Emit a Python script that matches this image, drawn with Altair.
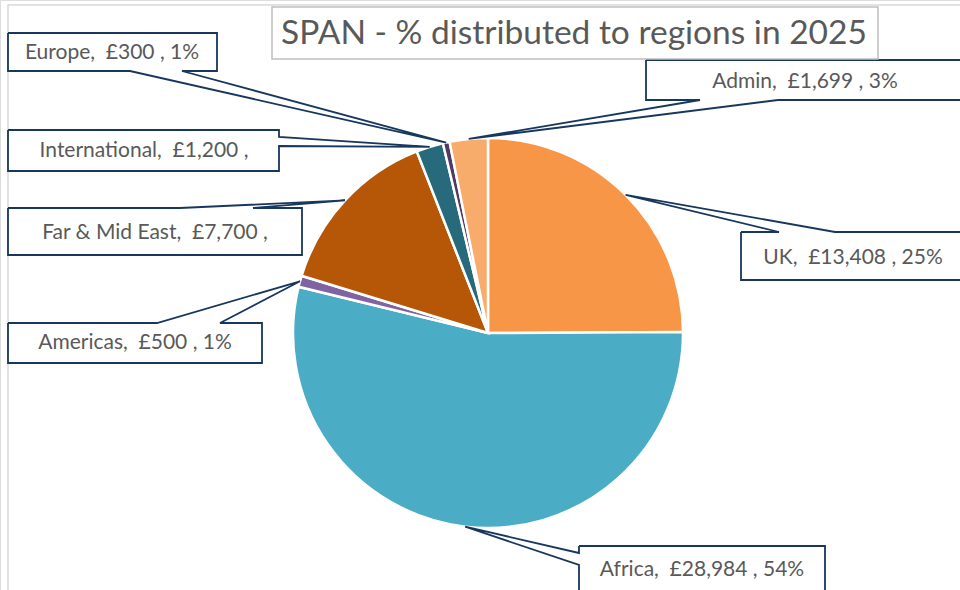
import math
import altair as alt
import pandas as pd

# ---- data ----
regions = ["UK", "Africa", "Americas", "Far & Mid East", "International", "Europe", "Admin"]
values = [13408, 28984, 500, 7700, 1200, 300, 1699]
label_texts = [
    "UK,\u00a0 £13,408 , 25%",
    "Africa,\u00a0 £28,984 , 54%",
    "Americas,\u00a0 £500 , 1%",
    "Far & Mid East,\u00a0 £7,700 ,",
    "International,\u00a0 £1,200 ,",
    "Europe,\u00a0 £300 , 1%",
    "Admin,\u00a0 £1,699 , 3%",
]
colors = ["#F79646", "#4BACC6", "#8064A2", "#B65708", "#276A7C", "#4D3B62", "#F8AC6B"]
title_text = "SPAN - % distributed to regions in 2025"

# ---- layout (pixels) ----
CX, CY, R = 488, 333, 195
# callout boxes: x1, y1, x2, y2, side of pointer, pointer base positions along side
boxes = {
    "UK": (741, 232, 975, 280, "top", 779, 835),
    "Africa": (579, 546, 825, 600, "left", 553, 565),
    "Americas": (8, 323, 262, 363, "top", 157, 220),
    "Far & Mid East": (8, 208, 302, 255, "top", 180, 253),
    "International": (8, 130, 279, 171, "right", 137, 146),
    "Europe": (8, 33, 217, 71, "bottom", 130, 182),
    "Admin": (646, 60, 975, 100, "bottom", 700, 778),
}
text_pos = {
    "UK": (853, 258), "Africa": (702, 570), "Americas": (135, 343),
    "Far & Mid East": (155, 233), "International": (144, 151),
    "Europe": (112, 53), "Admin": (805, 82),
}

total = sum(values)
pie_df = pd.DataFrame({"region": regions, "value": values, "idx": range(len(regions))})

# anchor points on the pie edge (mid-angle of each slice)
anchors = {}
cum = 0
for r, v in zip(regions, values):
    a = (cum + v / 2) / total * 2 * math.pi
    anchors[r] = (CX + R * math.sin(a), CY - R * math.cos(a))
    cum += v

path_rows, box_rows, text_rows = [], [], []
for r, t in zip(regions, label_texts):
    x1, y1, x2, y2, side, p1, p2 = boxes[r]
    ax, ay = anchors[r]
    top = [(x1, y1), (x2, y1)]
    right = [(x2, y2)]
    bottom = [(x1, y2)]
    left = [(x1, y1)]
    if side == "top":
        top = [(x1, y1), (p1, y1), (ax, ay), (p2, y1), (x2, y1)]
    elif side == "right":
        right = [(x2, p1), (ax, ay), (x2, p2), (x2, y2)]
    elif side == "bottom":
        bottom = [(p2, y2), (ax, ay), (p1, y2), (x1, y2)]
    elif side == "left":
        left = [(x1, p2), (ax, ay), (x1, p1), (x1, y1)]
    pts = top + right + bottom + left
    for i, (px, py) in enumerate(pts):
        path_rows.append({"region": r, "ord": i, "px": px, "py": py})
    box_rows.append({"region": r, "x1": x1, "y1": y1, "x2": x2, "y2": y2})
    tx, ty = text_pos[r]
    text_rows.append({"region": r, "label": t, "tx": tx, "ty": ty})

path_df = pd.DataFrame(path_rows)
box_df = pd.DataFrame(box_rows)
text_df = pd.DataFrame(text_rows)

NAVY = "#17375E"
FONT = "Lato"

border = alt.Chart(pd.DataFrame({"a": [0]})).mark_rect(
    fill="white", stroke="#D9D9D9", strokeWidth=1.5
).encode(x=alt.value(8), x2=alt.value(975), y=alt.value(5), y2=alt.value(600))

pie = alt.Chart(pie_df).mark_arc(outerRadius=R, stroke="white", strokeWidth=2.5).encode(
    theta=alt.Theta("value:Q", stack=True),
    color=alt.Color("region:N", scale=alt.Scale(domain=regions, range=colors), legend=None),
    order=alt.Order("idx:Q"),
    x=alt.value(CX),
    y=alt.value(CY),
)

box_fill = alt.Chart(box_df).mark_rect(fill="white", strokeWidth=0).encode(
    x=alt.X("x1:Q", scale=None), x2="x2:Q",
    y=alt.Y("y1:Q", scale=None), y2="y2:Q",
)

callouts = alt.Chart(path_df).mark_line(
    color=NAVY, strokeWidth=1.8, strokeJoin="miter", interpolate="linear"
).encode(
    x=alt.X("px:Q", scale=None),
    y=alt.Y("py:Q", scale=None),
    detail="region:N",
    order=alt.Order("ord:Q"),
)

labels = alt.Chart(text_df).mark_text(
    font=FONT, fontSize=21, color="#595959", align="center", baseline="middle"
).encode(
    x=alt.X("tx:Q", scale=None),
    y=alt.Y("ty:Q", scale=None),
    text="label:N",
)

title_box = alt.Chart(pd.DataFrame({"a": [0]})).mark_rect(
    fill="white", stroke="#BFBFBF", strokeWidth=1.5
).encode(x=alt.value(272), x2=alt.value(878), y=alt.value(7), y2=alt.value(59))

title = alt.Chart(pd.DataFrame({"t": [title_text]})).mark_text(
    font=FONT, fontSize=33.5, color="#595959", align="center", baseline="middle"
).encode(x=alt.value(574), y=alt.value(34), text="t:N")

chart = alt.layer(border, pie, box_fill, callouts, labels, title_box, title).properties(
    width=960, height=590, padding=0, autosize=alt.AutoSizeParams(type="none")
).configure_view(stroke=None).configure(background="white")

chart.save("out.html", embed_options={"renderer": "svg", "actions": False})
